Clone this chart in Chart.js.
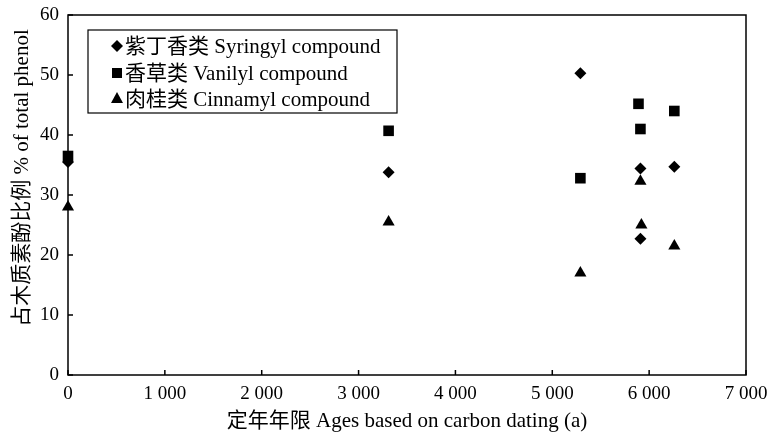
<!DOCTYPE html>
<html>
<head>
<meta charset="utf-8">
<script src="https://cdn.jsdelivr.net/npm/chart.js@4"></script>
<style>
  body { margin: 0; background: #fff; }
  #wrap { width: 769px; height: 436px; }
</style>
</head>
<body>
<div id="wrap"><canvas id="scatter-chart" width="769" height="436"></canvas></div>
<script>
// ages (a) and lignin phenol shares (%)
let syringylAge = [0, 3310, 5290, 5910, 5910, 6260];
let syringylPct = [35.5, 33.8, 50.3, 34.4, 22.7, 34.7];
let vanilylAge = [0, 3310, 5290, 5890, 5910, 6260];
let vanilylPct = [36.5, 40.7, 32.8, 45.2, 41.0, 44.0];
let cinnamylAge = [0, 3310, 5290, 5910, 5920, 6260];
let cinnamylPct = [28.0, 25.5, 17.0, 32.3, 25.0, 21.5];
let seriesNames = ["紫丁香类 Syringyl compound", "香草类 Vanilyl compound", "肉桂类 Cinnamyl compound"];
let xTicks = [0, 1000, 2000, 3000, 4000, 5000, 6000, 7000];
let yTitle = "占木质素酚比例 % of total phenol";

const fontFam = "'Liberation Serif', 'Noto Sans CJK SC', serif";

function toPoints(xs, ys) {
  return xs.map((x, i) => ({ x: x, y: ys[i] }));
}

// box frame, inward ticks, y title and the boxed legend
const framePlugin = {
  id: 'frame',
  afterDatasetsDraw(chart) {
    const ctx = chart.ctx, a = chart.chartArea;
    const xs = chart.scales.x, ys = chart.scales.y;
    ctx.save();
    ctx.strokeStyle = '#000';
    ctx.lineWidth = 1.5;
    ctx.strokeRect(a.left, a.top, a.right - a.left, a.bottom - a.top);
    ctx.beginPath();
    xs.ticks.forEach(t => {
      const px = xs.getPixelForValue(t.value);
      ctx.moveTo(px, a.bottom); ctx.lineTo(px, a.bottom - 5);
    });
    ys.ticks.forEach(t => {
      const py = ys.getPixelForValue(t.value);
      ctx.moveTo(a.left, py); ctx.lineTo(a.left + 5, py);
    });
    ctx.stroke();

    // y title, sits a bit above centre like the original
    ctx.fillStyle = '#000';
    ctx.save();
    ctx.translate(22, 178);
    ctx.rotate(-Math.PI / 2);
    ctx.font = "21px " + fontFam;
    ctx.textAlign = 'center';
    ctx.textBaseline = 'middle';
    ctx.fillText(yTitle, 0, 0);
    ctx.restore();

    // legend
    const lx = 88, ly = 30, lw = 309, lh = 83;
    ctx.lineWidth = 1.2;
    ctx.strokeRect(lx, ly, lw, lh);
    ctx.font = "21px " + fontFam;
    ctx.textBaseline = 'middle';
    const rows = [46, 73, 99];
    chart.data.datasets.forEach((ds, i) => {
      const mx = 117, my = rows[i];
      ctx.beginPath();
      if (ds.pointStyle === 'rectRot') {
        ctx.moveTo(mx, my - 6); ctx.lineTo(mx + 6, my); ctx.lineTo(mx, my + 6); ctx.lineTo(mx - 6, my);
      } else if (ds.pointStyle === 'rect') {
        ctx.rect(mx - 5, my - 5, 10, 10);
      } else {
        ctx.moveTo(mx, my - 7); ctx.lineTo(mx + 6, my + 4); ctx.lineTo(mx - 6, my + 4);
      }
      ctx.closePath();
      ctx.fill();
      ctx.fillText(ds.label, 125, my + 1);
    });
    ctx.restore();
  }
};

new Chart(document.getElementById("scatter-chart"), {
  type: 'scatter',
  data: {
    datasets: [{
        label: seriesNames[0],
        data: toPoints(syringylAge, syringylPct),
        pointStyle: 'rectRot',
        pointRadius: 6,
        backgroundColor: '#000',
        borderColor: '#000',
        borderWidth: 0,
        clip: false
      }, {
        label: seriesNames[1],
        data: toPoints(vanilylAge, vanilylPct),
        pointStyle: 'rect',
        pointRadius: 7.5,
        backgroundColor: '#000',
        borderColor: '#000',
        borderWidth: 0,
        clip: false
      }, {
        label: seriesNames[2],
        data: toPoints(cinnamylAge, cinnamylPct),
        pointStyle: 'triangle',
        pointRadius: 7,
        backgroundColor: '#000',
        borderColor: '#000',
        borderWidth: 0,
        clip: false
      }
    ]
  },
  options: {
    responsive: false,
    animation: false,
    layout: { padding: { left: 0, top: 15, right: 23, bottom: 0 } },
    plugins: {
      legend: { display: false },
      tooltip: { enabled: false }
    },
    scales: {
      x: {
        type: 'linear',
        min: 0,
        max: 7000,
        afterBuildTicks(scale) { scale.ticks = xTicks.map(v => ({ value: v })); },
        afterFit(scale) {
          scale.height = 61;
          scale.paddingLeft = 0;
          scale.paddingRight = 0;
        },
        grid: { display: false, drawTicks: false },
        border: { display: false },
        ticks: {
          padding: 8,
          color: '#000',
          font: { family: fontFam, size: 19 },
          maxRotation: 0,
          callback: v => v >= 1000 ? Math.floor(v / 1000) + ' ' + String(v % 1000).padStart(3, '0') : String(v)
        },
        title: {
          display: true,
          text: '定年年限 Ages based on carbon dating (a)',
          color: '#000',
          font: { family: fontFam, size: 21 },
          padding: { top: 0, bottom: 2 }
        }
      },
      y: {
        min: 0,
        max: 60,
        afterFit(scale) {
          scale.width = 68;
          scale.paddingTop = 0;
          scale.paddingBottom = 0;
        },
        grid: { display: false, drawTicks: false },
        border: { display: false },
        ticks: {
          stepSize: 10,
          padding: 9,
          color: '#000',
          font: { family: fontFam, size: 19 }
        }
      }
    }
  },
  plugins: [framePlugin]
});
</script>
</body>
</html>
